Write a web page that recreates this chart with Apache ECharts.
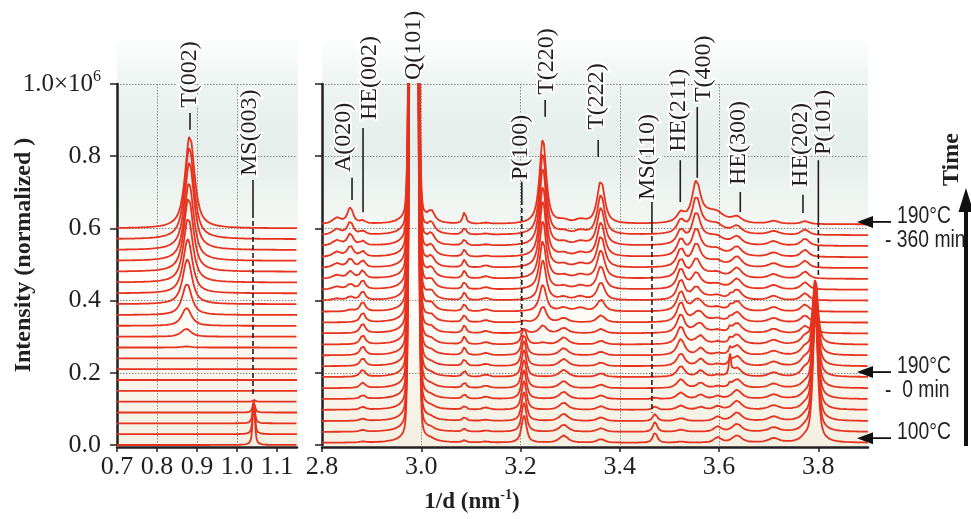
<!DOCTYPE html>
<html><head><meta charset="utf-8">
<script src="https://cdn.jsdelivr.net/npm/echarts@6/dist/echarts.min.js"></script>
<style>html,body{margin:0;padding:0;background:#fff}#c{width:971px;height:519px}</style>
</head><body><div id="c"></div>
<script>
// ---------------- DATA ----------------
const traceIndex = [0,1,2,3,4,5,6,7,8,9,10,11,12,13,14,15,16,17,18,19,20];
// vertical stacking offset of each pattern (bottom = 100°C, top = 190°C - 360 min)
const leftOffsets  = [0.000,0.030,0.060,0.090,0.120,0.150,0.180,0.210,0.240,0.270,0.300,0.330,0.360,0.390,0.420,0.450,0.480,0.510,0.540,0.570,0.600];
const rightOffsets = [0.006,0.036,0.066,0.097,0.127,0.157,0.188,0.218,0.248,0.278,0.309,0.339,0.369,0.400,0.430,0.460,0.490,0.520,0.551,0.581,0.611];

// Left panel reflections: heights per pattern
const t002Centers = [0.872,0.872,0.872,0.872,0.872,0.872,0.872,0.872,0.872,0.873,0.873,0.874,0.875,0.876,0.877,0.878,0.879,0.880,0.881,0.881,0.882];
const t002Heights = [0,0,0,0,0,0,0,0,0,0.003,0.022,0.050,0.087,0.125,0.150,0.180,0.205,0.216,0.243,0.254,0.258];
const ms003Heights = [0.120,0.090,0.060,0.030,0.005,0,0,0,0,0,0,0,0,0,0,0,0,0,0,0,0];

// Right panel reflections
const sh2830Heights = [0,0,0,0,0,0,0,0,0,0,0,0,0,0.005,0.008,0.010,0.012,0.014,0.015,0.016,0.017];
const a020Heights   = [0,0,0,0,0,0,0,0,0,0,0,0,0.005,0.010,0.015,0.020,0.025,0.030,0.033,0.036,0.045];
const he002Heights  = [0.003,0.005,0.006,0.008,0.010,0.015,0.020,0.022,0.025,0.026,0.027,0.027,0.027,0.025,0.025,0.022,0.020,0.015,0.012,0.010,0.008];
const q101Heights   = [5,5,5,5,5,5,5,5,5,5,5,5,5,5,5,5,5,5,5,5,5];
const p3020Heights  = [0.005,0.005,0.005,0.005,0.005,0.005,0.005,0.005,0.008,0.010,0.012,0.015,0.018,0.020,0.022,0.024,0.025,0.026,0.027,0.028,0.030];
const p3087Heights  = [0.006,0.008,0.010,0.010,0.013,0.016,0.018,0.020,0.022,0.022,0.022,0.022,0.022,0.022,0.022,0.022,0.022,0.020,0.018,0.020,0.032];
const p3130Heights  = [0.003,0.003,0.003,0.006,0.006,0.006,0.006,0.006,0.006,0.006,0.006,0.006,0.006,0.006,0.006,0.006,0.006,0.003,0.003,0.003,0.003];
const p100Heights   = [0.075,0.080,0.080,0.080,0.080,0.078,0.075,0.070,0.060,0.045,0.012,0.004,0,0,0,0,0,0,0,0,0];
const t220Heights   = [0,0,0,0,0,0,0,0,0,0.005,0.022,0.045,0.075,0.110,0.135,0.160,0.185,0.195,0.215,0.225,0.235];
const p3287Heights  = [0.020,0.020,0.020,0.020,0.020,0.020,0.020,0.020,0.020,0.020,0.015,0.012,0.010,0.008,0.008,0.008,0.008,0.008,0.008,0.008,0.008];
const p3320Heights  = [0,0,0,0,0,0,0,0,0,0,0,0,0.010,0.010,0.010,0.010,0.010,0.010,0.010,0.010,0.010];
const t222Heights   = [0.010,0.010,0.010,0.010,0.010,0.010,0.010,0.010,0.010,0.010,0.012,0.020,0.033,0.050,0.065,0.078,0.088,0.095,0.105,0.110,0.120];
const ms110Heights  = [0.030,0.028,0.020,0.010,0.004,0,0,0,0,0,0,0,0,0,0,0,0,0,0,0,0];
const he211Heights  = [0.003,0.006,0.008,0.012,0.018,0.025,0.030,0.035,0.045,0.050,0.052,0.055,0.055,0.055,0.055,0.052,0.050,0.045,0.040,0.035,0.025];
const t400Heights   = [0,0,0,0,0,0,0,0,0,0.005,0.012,0.018,0.025,0.032,0.040,0.048,0.058,0.068,0.080,0.092,0.105];
const t400TailHeights = [0,0,0,0,0,0,0,0,0,0.002,0.004,0.006,0.008,0.010,0.012,0.014,0.017,0.020,0.024,0.028,0.032];
const p3563Heights  = [0,0,0,0.008,0.012,0.015,0.018,0.020,0.020,0.020,0.018,0.015,0.010,0,0,0,0,0,0,0,0];
const p3597Heights  = [0.015,0.015,0.012,0.010,0.008,0.005,0.005,0.005,0.005,0.005,0.005,0.005,0.005,0.005,0.005,0.005,0.005,0.005,0.005,0.005,0.005];
const p3622Heights  = [0,0,0,0,0,0.010,0.055,0.015,0.015,0.012,0.012,0.010,0.008,0.006,0,0,0,0,0,0,0];
const he300Heights  = [0.020,0.022,0.024,0.025,0.025,0.025,0.025,0.028,0.028,0.028,0.028,0.028,0.028,0.028,0.028,0.028,0.028,0.025,0.022,0.020,0.015];
const p3710Heights  = [0.012,0.012,0.012,0.012,0.012,0.012,0.012,0.012,0.012,0.012,0.012,0.012,0.012,0.012,0.012,0.012,0.012,0.012,0.012,0.010,0.008];
const he202Heights  = [0.010,0.010,0.010,0.010,0.010,0.010,0.020,0.020,0.020,0.020,0.020,0.020,0.020,0.020,0.020,0.020,0.020,0.020,0.020,0.015,0.008];
const p101Heights   = [0.360,0.350,0.330,0.310,0.290,0.270,0.250,0.230,0.210,0.180,0.020,0,0,0,0,0,0,0,0,0,0];

// peak table: [centre, half width, lorentz fraction, heights]
const leftPeaks = [
  [t002Centers, 0.014, 0.8, t002Heights],
  [1.042, 0.0035, 0.6, ms003Heights]
];
const rightPeaks = [
  [2.830, 0.010, 0.8, sh2830Heights],
  [2.857, 0.007, 0.8, a020Heights],
  [2.882, 0.006, 0.8, he002Heights],
  [2.985, 0.006, 0.08, q101Heights],
  [3.020, 0.008, 0.8, p3020Heights],
  [3.087, 0.004, 0.7, p3087Heights],
  [3.130, 0.008, 0.8, p3130Heights],
  [3.207, 0.006, 0.7, p100Heights],
  [3.245, 0.008, 0.8, t220Heights],
  [3.287, 0.010, 0.8, p3287Heights],
  [3.320, 0.012, 0.8, p3320Heights],
  [3.362, 0.009, 0.8, t222Heights],
  [3.471, 0.005, 0.7, ms110Heights],
  [3.523, 0.009, 0.8, he211Heights],
  [3.554, 0.010, 0.8, t400Heights],
  [3.585, 0.030, 0.8, t400TailHeights],
  [3.563, 0.008, 0.8, p3563Heights],
  [3.597, 0.008, 0.8, p3597Heights],
  [3.622, 0.0025, 0.6, p3622Heights],
  [3.636, 0.011, 0.8, he300Heights],
  [3.710, 0.012, 0.8, p3710Heights],
  [3.773, 0.009, 0.8, he202Heights],
  [3.794, 0.006, 0.7, p101Heights]
];

// axis ticks
const leftXTicks = [0.7, 0.8, 0.9, 1.0, 1.1];
const rightXTicks = [2.8, 3.0, 3.2, 3.4, 3.6, 3.8];

// annotations: label, panel, text x, text bottom y, leader x, solid [y1,y2], dashed [y1,y2]
const peakLabels = [
  ['T(002)', 0, 0.8825, 0.934, 0.8825, [0.920, 0.873], null],
  ['MS(003)', 0, 1.0325, 0.745, 1.040, [0.734, 0.643], [0.643, 0.133]],
  ['A(020)', 1, 2.8444, 0.756, 2.8605, [0.740, 0.679], null],
  ['HE(002)', 1, 2.8968, 0.900, 2.8827, [0.878, 0.645], null],
  ['Q(101)', 1, 2.9855, 1.011, null, null, null],
  ['P(100)', 1, 3.2000, 0.734, 3.2026, [0.729, 0.679], [0.679, 0.319]],
  ['T(220)', 1, 3.2536, 0.970, 3.2496, [0.956, 0.909], null],
  ['T(222)', 1, 3.3544, 0.873, 3.3565, [0.845, 0.798], null],
  ['MS(110)', 1, 3.4570, 0.679, 3.4647, [0.673, 0.601], [0.601, 0.089]],
  ['HE(211)', 1, 3.5177, 0.812, 3.5218, [0.789, 0.673], null],
  ['T(400)', 1, 3.5680, 0.950, 3.5560, [0.936, 0.740], null],
  ['HE(300)', 1, 3.6387, 0.720, 3.6427, [0.701, 0.645], null],
  ['HE(202)', 1, 3.7637, 0.715, 3.7690, [0.693, 0.643], null],
  ['P(101)', 1, 3.8100, 0.803, 3.8000, [0.789, 0.618], [0.618, 0.465]]
];
// right-side time markers: y level (data), text lines
const timeMarkers = [
  [0.618, '190°C', '- 360 min'],
  [0.202, '190°C', '-  0 min'],
  [0.019, '100°C', null]
];

// ---------------- BUILD ----------------
const RED = '#e6321e';
const INK = '#231f20';
function pv(x, c, g, h, eta) {
  if (!h) return 0;
  const d = x - c;
  const L = g * g / (d * d + g * g);
  const G = Math.exp(-0.693147 * d * d / (g * g));
  return h * (eta * L + (1 - eta) * G);
}
function buildTrace(k, x0, x1, step, offsets, peaks) {
  const pts = [];
  const n = Math.round((x1 - x0) / step);
  for (let i = 0; i <= n; i++) {
    const x = x0 + i * step;
    let y = offsets[k];
    for (const p of peaks) {
      const c = Array.isArray(p[0]) ? p[0][k] : p[0];
      y += pv(x, c, p[1], p[3][k], p[2]);
    }
    pts.push([x, y]);
  }
  return pts;
}
const series = [];
traceIndex.forEach(k => {
  series.push({type:'line', xAxisIndex:0, yAxisIndex:0, showSymbol:false, silent:true, clip:true,
    lineStyle:{color:RED, width:1.8}, data: buildTrace(k, 0.7, 1.15, 0.0015, leftOffsets, leftPeaks)});
  series.push({type:'line', xAxisIndex:1, yAxisIndex:1, showSymbol:false, silent:true, clip:true,
    lineStyle:{color:RED, width:1.8}, data: buildTrace(k, 2.8, 3.9, 0.001, rightOffsets, rightPeaks)});
});

const serif = 'Liberation Serif, Times New Roman, serif';
const GRIDS = [{left:117, top:84, width:180, height:361}, {left:322, top:84, width:546, height:361}];
function xAxisCfg(i, min, max, interval, ticks) {
  return {
    type:'value', gridIndex:i, min, max, interval, offset:2,
    axisLine:{show:true, onZero:false, lineStyle:{color:INK, width:2.5}},
    axisTick:{show:true, length:5, lineStyle:{color:INK, width:1.5}, customValues: ticks},
    axisLabel:{show:true, margin:7, color:INK, fontFamily:serif, fontSize:26, customValues: ticks,
      formatter: v => Number(v).toFixed(1)},
    splitLine:{show:true, showMinLine:false, showMaxLine:false, lineStyle:{color:'#8a8a8a', type:[1.5,1.5], width:1}}
  };
}
function yAxisCfg(i, showLabel) {
  return {
    type:'value', gridIndex:i, min:0, max:1, interval:0.2,
    axisLine:{show:true, onZero:false, lineStyle:{color:INK, width:2.5}},
    axisTick:{show:true, length:7, lineStyle:{color:INK, width:1.5}},
    axisLabel:{show:showLabel, margin:16, color:INK, fontFamily:serif, fontSize:26,
      formatter: v => v === 1 ? '{a|1.0×10}{s|6}' : Number(v).toFixed(1),
      rich:{a:{fontFamily:serif, fontSize:25, color:INK, lineHeight:30}, s:{fontFamily:serif, fontSize:16, color:INK, verticalAlign:'top', lineHeight:18}}},
    splitLine:{show:true, showMinLine:false, lineStyle:{color:'#8a8a8a', type:[1.5,1.5], width:1}}
  };
}
const chart = echarts.init(document.getElementById('c'), null, {renderer:'canvas'});
const bgFill = {type:'linear', x:0, y:0, x2:0, y2:1, colorStops:[
  {offset:0, color:'#fdfefe'}, {offset:0.11, color:'#edf4f2'}, {offset:0.28, color:'#e5eeeb'},
  {offset:0.52, color:'#fafbf8'}, {offset:0.6, color:'#fffefb'}, {offset:1, color:'#f3efe1'}]};
chart.setOption({
  animation:false,
  backgroundColor:'#ffffff',
  grid: GRIDS,
  xAxis:[xAxisCfg(0, 0.7, 1.15, 0.1, leftXTicks), xAxisCfg(1, 2.8, 3.9, 0.2, rightXTicks)],
  yAxis:[yAxisCfg(0, true), yAxisCfg(1, false)],
  series,
  graphic:[
    {type:'rect', z:-100, silent:true, shape:{x:117, y:40, width:181, height:406}, style:{fill:bgFill}},
    {type:'rect', z:-100, silent:true, shape:{x:322, y:40, width:546, height:406}, style:{fill:bgFill}}
  ]
});

// annotations placed through the axes' scales
const els = [];
const px = (g, x, y) => chart.convertToPixel({gridIndex:g}, [x, y]);
const labelStyle = {fontFamily:serif, fontSize:24, fill:INK, stroke:'#ffffff', lineWidth:4};
peakLabels.forEach(([txt, g, tx, ty, lx, solid, dashed]) => {
  const p = px(g, tx, ty);
  els.push({type:'text', z:50, x:p[0], y:p[1], rotation:Math.PI/2,
    style:Object.assign({text:txt, align:'left', verticalAlign:'middle'}, labelStyle)});
  if (solid) {
    const a = px(g, lx, solid[0]), b = px(g, lx, solid[1]);
    els.push({type:'line', z:50, shape:{x1:a[0], y1:a[1], x2:b[0], y2:b[1]}, style:{stroke:INK, lineWidth:1.6}});
  }
  if (dashed) {
    const a = px(g, lx, dashed[0]), b = px(g, lx, dashed[1]);
    els.push({type:'line', z:50, shape:{x1:a[0], y1:a[1], x2:b[0], y2:b[1]}, style:{stroke:INK, lineWidth:1.6, lineDash:[5,3]}});
  }
});
const sans = 'Liberation Sans, Arial, sans-serif';
timeMarkers.forEach(([yv, t1, t2]) => {
  const y = px(1, 3.9, yv)[1];
  els.push({type:'line', z:60, shape:{x1:868, y1:y, x2:891, y2:y}, style:{stroke:'#111', lineWidth:1.8}});
  els.push({type:'polygon', z:60, shape:{points:[[857,y],[873,y-6],[873,y+6]]}, style:{fill:'#111'}});
  els.push({type:'text', z:60, x:897, y:y-5, scaleX:0.84,
    style:{text:t1, fontFamily:sans, fontSize:23, fill:INK, align:'left', verticalAlign:'middle'}});
  if (t2) els.push({type:'text', z:60, x:885, y:y+19, scaleX:0.84,
    style:{text:t2, fontFamily:sans, fontSize:23, fill:INK, align:'left', verticalAlign:'middle'}});
});
// Time arrow
els.push({type:'line', z:60, shape:{x1:966, y1:446, x2:966, y2:205}, style:{stroke:'#111', lineWidth:4}});
els.push({type:'polygon', z:60, shape:{points:[[966,188],[958.5,212],[973.5,212]]}, style:{fill:'#111'}});
els.push({type:'text', z:60, x:952, y:186, rotation:Math.PI/2,
  style:{text:'Time', fontFamily:serif, fontWeight:'bold', fontSize:24, fill:INK, align:'left', verticalAlign:'middle'}});
// axis titles
els.push({type:'text', z:60, x:24, y:255, rotation:Math.PI/2,
  style:{text:'Intensity (normalized )', fontFamily:serif, fontWeight:'bold', fontSize:24, fill:INK, align:'center', verticalAlign:'middle'}});
els.push({type:'text', z:60, x:472, y:502,
  style:{text:'{a|1/d (nm}{s|-1}{a|)}', align:'center', verticalAlign:'middle',
    rich:{a:{fontFamily:serif, fontWeight:'bold', fontSize:23, fill:INK, lineHeight:28},
          s:{fontFamily:serif, fontWeight:'bold', fontSize:14, fill:INK, verticalAlign:'top', lineHeight:16}}}});
chart.setOption({graphic: chart.getOption().graphic[0].elements.concat(els)});
</script></body></html>
